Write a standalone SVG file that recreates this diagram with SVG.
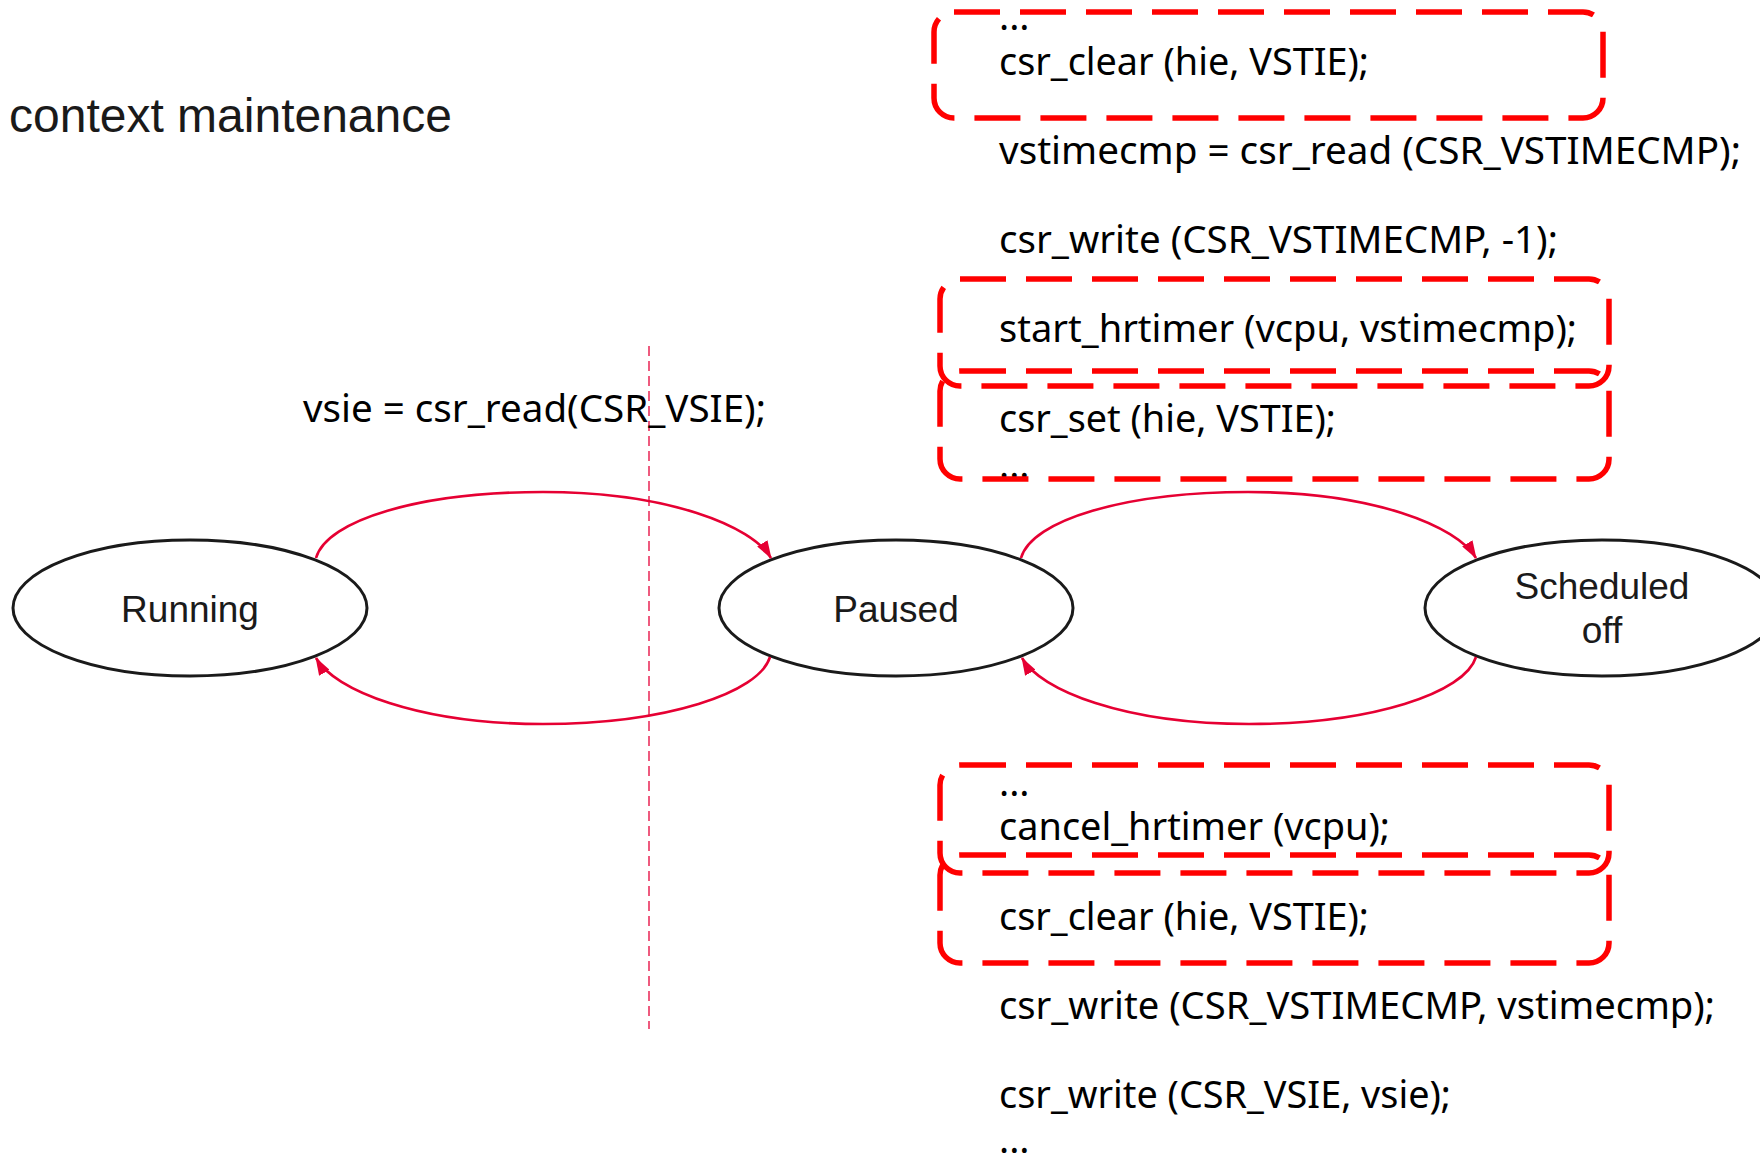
<svg xmlns="http://www.w3.org/2000/svg" width="1760" height="1158" viewBox="0 0 1760 1158">
  <defs>
    <marker id="arrow" viewBox="0 0 18 12" refX="17" refY="6" markerWidth="18" markerHeight="12" markerUnits="userSpaceOnUse" orient="auto">
      <path d="M0,0 L18,6 L0,12 Z" fill="#E60033"/>
    </marker>
    <style>
      .title { font-family: "Liberation Sans", Arial, sans-serif; font-size: 48px; fill: #1a1a1a; }
      .state { fill: #ffffff; stroke: #1a1a1a; stroke-width: 3; }
      .label { font-family: "Liberation Sans", Arial, sans-serif; font-size: 37px; fill: #1a1a1a; text-anchor: middle; }
      .code { font-family: "Noto Sans", "DejaVu Sans", sans-serif; font-size: 38px; fill: #000000; }
      .edge { fill: none; stroke: #E60033; stroke-width: 2.6; marker-end: url(#arrow); }
      .group { fill: none; stroke: #FF0000; stroke-width: 5.5; stroke-dasharray: 46 20; }
      .divider { stroke: #EE5A7E; stroke-width: 2; stroke-dasharray: 10 5; }
    </style>
  </defs>

  <rect width="1760" height="1158" fill="#ffffff"/>

  <text class="title" x="9" y="132">context maintenance</text>

  <!-- divider between running and paused -->
  <line class="divider" x1="649" y1="346" x2="649" y2="1029"/>

  <text class="code" x="303" y="422" textLength="463" lengthAdjust="spacingAndGlyphs">vsie = csr_read(CSR_VSIE);</text>

  <!-- states -->
  <g id="running">
    <ellipse class="state" cx="190" cy="608" rx="177" ry="68"/>
    <text class="label" x="190" y="622">Running</text>
  </g>
  <g id="paused">
    <ellipse class="state" cx="896" cy="608" rx="177" ry="68"/>
    <text class="label" x="896" y="622">Paused</text>
  </g>
  <g id="scheduled-off">
    <ellipse class="state" cx="1602" cy="608" rx="177" ry="68"/>
    <text class="label" x="1602" y="599">Scheduled</text>
    <text class="label" x="1602" y="643">off</text>
  </g>

  <!-- transitions -->
  <g id="connectors">
    <path class="edge" d="M316,558 C327,520 420,492 543,492 C668,492 752,526 771,558"/>
    <path class="edge" d="M770,657 C759,693 666,724 543,724 C418,724 334,690 316,658"/>
    <path class="edge" d="M1021,558 C1032,520 1125,492 1248,492 C1373,492 1457,526 1476,558"/>
    <path class="edge" d="M1476,657 C1465,693 1372,724 1249,724 C1124,724 1040,690 1022,658"/>
  </g>

  <!-- code run when leaving the running state -->
  <g id="code-out">
    <text class="code" x="999" y="30">...</text>
    <text class="code" x="999" y="75" textLength="370" lengthAdjust="spacingAndGlyphs">csr_clear (hie, VSTIE);</text>
    <text class="code" x="999" y="164" textLength="742" lengthAdjust="spacingAndGlyphs">vstimecmp = csr_read (CSR_VSTIMECMP);</text>
    <text class="code" x="999" y="253" textLength="559" lengthAdjust="spacingAndGlyphs">csr_write (CSR_VSTIMECMP, -1);</text>
    <text class="code" x="999" y="342" textLength="578" lengthAdjust="spacingAndGlyphs">start_hrtimer (vcpu, vstimecmp);</text>
    <text class="code" x="999" y="432" textLength="337" lengthAdjust="spacingAndGlyphs">csr_set (hie, VSTIE);</text>
    <text class="code" x="999" y="478">...</text>
  </g>

  <!-- code run when returning to the running state -->
  <g id="code-in">
    <text class="code" x="999" y="796">...</text>
    <text class="code" x="999" y="840" textLength="391" lengthAdjust="spacingAndGlyphs">cancel_hrtimer (vcpu);</text>
    <text class="code" x="999" y="930" textLength="370" lengthAdjust="spacingAndGlyphs">csr_clear (hie, VSTIE);</text>
    <text class="code" x="999" y="1019" textLength="716" lengthAdjust="spacingAndGlyphs">csr_write (CSR_VSTIMECMP, vstimecmp);</text>
    <text class="code" x="999" y="1108" textLength="452" lengthAdjust="spacingAndGlyphs">csr_write (CSR_VSIE, vsie);</text>
    <text class="code" x="999" y="1153">...</text>
  </g>

  <!-- highlighted statements -->
  <g id="highlights">
    <rect class="group" x="934" y="12" width="669" height="106" rx="20"/>
    <rect class="group" x="940" y="279" width="669" height="107" rx="20"/>
    <rect class="group" x="940" y="371" width="669" height="108" rx="20"/>
    <rect class="group" x="940" y="765" width="669" height="108" rx="20"/>
    <rect class="group" x="940" y="855" width="669" height="108" rx="20"/>
  </g>
</svg>
